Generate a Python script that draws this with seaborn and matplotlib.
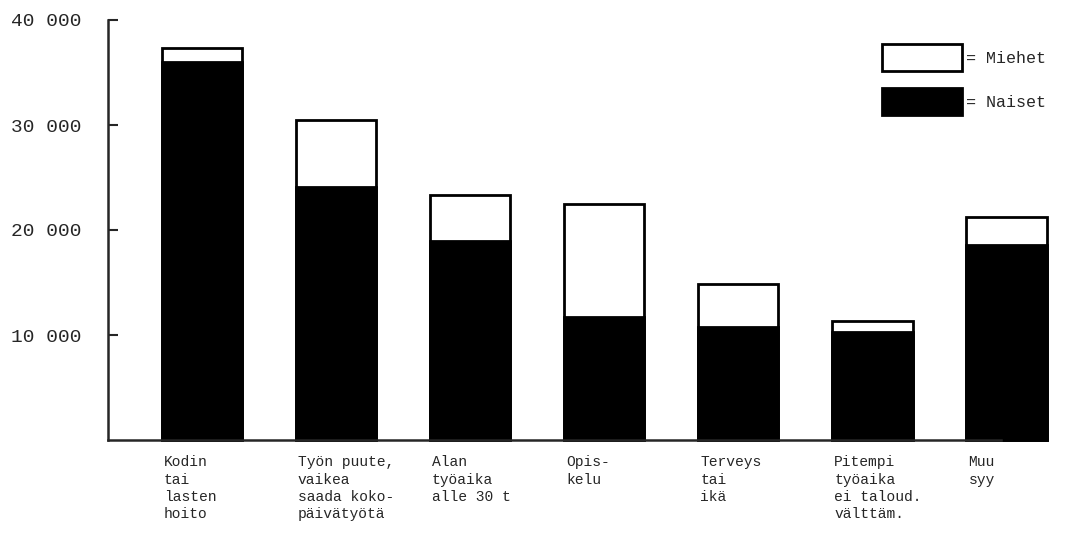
import matplotlib
matplotlib.use("Agg")
import matplotlib.pyplot as plt
import matplotlib.transforms as mtransforms
from matplotlib.patches import Patch
import seaborn as sns

# Data
categories = [
    "Kodin\ntai\nlasten\nhoito",
    "Työn puute,\nvaikea\nsaada koko-\npäivätyötä",
    "Alan\ntyöaika\nalle 30 t",
    "Opis-\nkelu",
    "Terveys\ntai\nikä",
    "Pitempi\ntyöaika\nei taloud.\nvälttäm.",
    "Muu\nsyy",
]
naiset = [36000, 24100, 19000, 11700, 10800, 10250, 18550]
miehet = [1300, 6400, 4350, 10750, 4050, 1100, 2700]
yticks = [10000, 20000, 30000, 40000]
ytick_labels = ["10 000", "20 000", "30 000", "40 000"]

totals = [n + m for n, m in zip(naiset, miehet)]

sns.set_style("ticks")
plt.rcParams["font.family"] = ["Liberation Mono", "DejaVu Sans Mono"]

fig = plt.figure(figsize=(10.66, 5.40), dpi=100)
ax = fig.add_axes([108 / 1066, 100 / 540, 948 / 1066, 420 / 540])

# total (Miehet on top) drawn first, Naiset over it
sns.barplot(x=categories, y=totals, color="white", edgecolor="black",
            linewidth=2, width=0.6, saturation=1, ax=ax)
sns.barplot(x=categories, y=naiset, color="black", edgecolor="black",
            linewidth=2, width=0.6, saturation=1, ax=ax)
for p in ax.patches:
    p.set_clip_on(False)

ax.set_xlim(-0.70, 6.37)
ax.set_ylim(0, 40000)
ax.set_yticks(yticks)
ax.set_yticklabels(ytick_labels, fontsize=14, ha="left")
ax.tick_params(axis="y", direction="in", length=7, width=1.5, pad=70)
ax.tick_params(axis="x", length=0, pad=11)
ax.set_xticks(range(len(categories)))
ax.set_xticklabels(categories, fontsize=10.5, ha="left", va="top",
                   linespacing=1.3)
offset = mtransforms.ScaledTranslation(-38 / 100, 0, fig.dpi_scale_trans)
for lbl in ax.get_xticklabels():
    lbl.set_transform(lbl.get_transform() + offset)

sns.despine(ax=ax)
ax.spines["left"].set_linewidth(1.8)
ax.spines["bottom"].set_linewidth(1.8)
ax.spines["bottom"].set_bounds(-0.70, 5.96)
ax.set_xlabel("")
ax.set_ylabel("")

handles = [
    Patch(facecolor="white", edgecolor="black", linewidth=2, label="= Miehet"),
    Patch(facecolor="black", edgecolor="black", linewidth=2, label="= Naiset"),
]
ax.legend(handles=handles, loc="upper left",
          bbox_to_anchor=(882 / 1066, 1 - 44 / 540),
          bbox_transform=fig.transFigure, frameon=False,
          fontsize=12, handlelength=4.8, handleheight=2.15,
          labelspacing=1.0, handletextpad=0.25, borderpad=0, borderaxespad=0)

fig.savefig("out.png", dpi=100)
